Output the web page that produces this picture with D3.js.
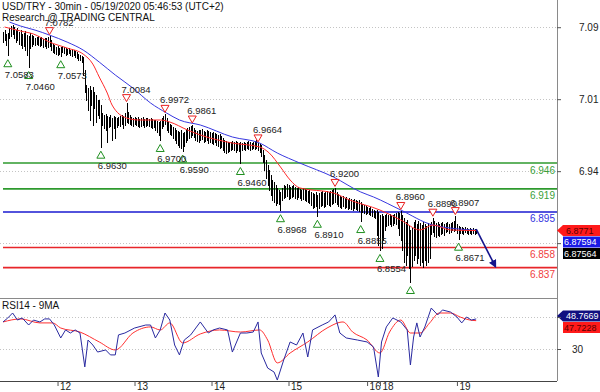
<!DOCTYPE html>
<html lang="en">
<head>
<meta charset="utf-8">
<title>USD/TRY 30min</title>
<style>
  body { margin: 0; background: #fff; }
  svg { display: block; font-family: "Liberation Sans", Arial, sans-serif; }
  .grid { stroke: #c4c4c4; stroke-dasharray: 1,2; }
  .frame { stroke: #8a8a8a; stroke-width: 1; }
  .bar { stroke: #000; stroke-width: 1; }
  .mark-label { font-size: 9.5px; fill: #222; }
  .axis text { font-size: 10px; fill: #222; font-family: "Liberation Sans", Arial, sans-serif; }
  .axis line { stroke: #555; }
</style>
</head>
<body>
<div id="chart"></div>

<script src="https://cdn.jsdelivr.net/npm/d3@7"></script>
<script>
var width = 600, height = 392;
var plotRight = 557, mainBottom = 298, rsiTop = 298, rsiBottom = 381;

// ---- data ----
// day labels on the time axis and the 30min bar where each day starts
var dayLabels = ["12", "13", "14", "15", "16", "18", "19"];
var dayBars = [34, 82, 130, 178, 227, 235, 283];

// price axis ticks
var priceTicks = [6.8625, 6.9375, 7.0125, 7.0875];
var rsiTicks = [30, 50];

// 30min bars: highs and lows
var highs = [
  7.0825,7.0845,7.0804,7.0814,7.0866,7.0887,7.0898,7.0877,7.0845,7.0866,
  7.0825,7.0845,7.0804,7.0814,7.0835,7.0793,7.0783,7.0814,7.0793,7.0783,
  7.0762,7.0773,7.0783,7.0762,7.0773,7.0752,7.0762,7.0762,7.0773,7.0782,
  7.0741,7.0700,7.0689,7.0668,7.0679,7.0658,7.0668,7.0679,7.0668,7.0658,
  7.0648,7.0658,7.0637,7.0648,7.0637,7.0627,7.0616,7.0595,7.0585,7.0575,
  7.0564,7.0429,7.0273,7.0241,7.0262,7.0220,7.0252,7.0200,7.0168,7.0116,
  7.0116,7.0064,6.9981,6.9960,6.9970,6.9950,6.9939,6.9960,6.9929,6.9950,
  6.9939,6.9929,6.9939,6.9950,6.9960,6.9950,6.9981,7.0084,6.9991,6.9960,
  6.9939,6.9929,6.9939,6.9929,6.9939,6.9918,6.9929,6.9939,6.9918,6.9929,
  6.9929,6.9918,6.9929,6.9918,6.9908,6.9908,6.9898,6.9887,6.9898,6.9929,
  6.9950,6.9972,6.9929,6.9887,6.9866,6.9856,6.9835,6.9825,6.9804,6.9793,
  6.9783,6.9804,6.9773,6.9783,6.9804,6.9825,6.9835,6.9845,6.9861,6.9825,
  6.9804,6.9793,6.9804,6.9804,6.9814,6.9793,6.9783,6.9804,6.9793,6.9783,
  6.9773,6.9783,6.9773,6.9762,6.9752,6.9762,6.9741,6.9720,6.9700,6.9689,
  6.9679,6.9668,6.9679,6.9689,6.9679,6.9689,6.9679,6.9668,6.9679,6.9668,
  6.9679,6.9668,6.9679,6.9689,6.9679,6.9668,6.9679,6.9689,6.9700,6.9664,
  6.9658,6.9648,6.9595,6.9543,6.9491,6.9439,6.9387,6.9335,6.9283,6.9262,
  6.9231,6.9200,6.9179,6.9158,6.9200,6.9231,6.9220,6.9241,6.9231,6.9210,
  6.9220,6.9231,6.9210,6.9200,6.9210,6.9189,6.9179,6.9200,6.9189,6.9179,
  6.9168,6.9179,6.9158,6.9148,6.9137,6.9158,6.9127,6.9148,6.9158,6.9168,
  6.9148,6.9158,6.9168,6.9158,6.9168,6.9179,6.9189,6.9200,6.9158,6.9137,
  6.9116,6.9106,6.9116,6.9095,6.9106,6.9085,6.9095,6.9085,6.9075,6.9085,
  6.9075,6.9064,6.9075,6.9054,6.9033,6.9023,6.9012,6.9002,6.8991,6.9002,
  6.8981,6.8970,6.8960,6.8970,6.8950,6.8918,6.8929,6.8908,6.8918,6.8929,
  6.8918,6.8929,6.8908,6.8918,6.8929,6.8939,6.8950,6.8939,6.8960,6.8918,
  6.8887,6.8845,6.8866,6.8814,6.8762,6.8783,6.8845,6.8866,6.8825,6.8856,
  6.8835,6.8814,6.8845,6.8825,6.8804,6.8835,6.8825,6.8845,6.8890,6.8856,
  6.8835,6.8845,6.8825,6.8835,6.8845,6.8825,6.8835,6.8845,6.8825,6.8835,
  6.8845,6.8856,6.8907,6.8825,6.8804,6.8793,6.8793,6.8783,6.8793,6.8783,
  6.8773,6.8783,6.8773,6.8783,6.8773,6.8773
];
var lows = [
  7.0720,7.0741,7.0689,7.0585,7.0762,7.0783,7.0804,7.0762,7.0720,7.0741,
  7.0700,7.0689,7.0658,7.0679,7.0637,7.0585,7.0460,7.0658,7.0679,7.0700,
  7.0689,7.0700,7.0689,7.0679,7.0689,7.0668,7.0679,7.0658,7.0668,7.0679,
  7.0637,7.0616,7.0606,7.0595,7.0585,7.0595,7.0573,7.0616,7.0606,7.0585,
  7.0595,7.0606,7.0585,7.0575,7.0585,7.0564,7.0554,7.0533,7.0533,7.0512,
  7.0377,7.0200,7.0116,7.0012,6.9908,7.0064,6.9856,7.0033,6.9887,6.9960,
  6.9929,6.9630,6.9856,6.9825,6.9804,6.9679,6.9835,6.9845,6.9700,6.9825,
  6.9720,6.9835,6.9856,6.9845,6.9866,6.9825,6.9856,6.9887,6.9877,6.9866,
  6.9856,6.9845,6.9866,6.9856,6.9845,6.9835,6.9845,6.9856,6.9835,6.9845,
  6.9856,6.9845,6.9835,6.9825,6.9835,6.9804,6.9783,6.9752,6.9700,6.9825,
  6.9845,6.9866,6.9804,6.9783,6.9762,6.9752,6.9720,6.9700,6.9668,6.9648,
  6.9627,6.9616,6.9590,6.9637,6.9679,6.9700,6.9720,6.9731,6.9752,6.9731,
  6.9700,6.9689,6.9679,6.9700,6.9710,6.9679,6.9689,6.9700,6.9668,6.9679,
  6.9668,6.9658,6.9679,6.9648,6.9637,6.9616,6.9627,6.9595,6.9575,6.9564,
  6.9575,6.9585,6.9595,6.9606,6.9595,6.9575,6.9595,6.9585,6.9460,6.9595,
  6.9606,6.9595,6.9616,6.9606,6.9595,6.9606,6.9616,6.9606,6.9616,6.9595,
  6.9575,6.9533,6.9470,6.9387,6.9304,6.9231,6.9179,6.9127,6.9075,6.9054,
  6.9023,6.9043,6.9033,6.8968,6.9075,6.9095,6.9106,6.9116,6.9085,6.9095,
  6.9106,6.9116,6.9095,6.9085,6.9106,6.9095,6.9075,6.9085,6.9075,6.9064,
  6.9054,6.9043,6.9023,6.8991,6.9002,6.9012,6.8910,6.8991,6.9012,6.9023,
  6.9002,6.9012,6.9033,6.9023,6.9012,6.9033,6.9043,6.9054,6.9033,6.9012,
  6.9002,6.8991,6.9012,6.8991,6.9002,6.8981,6.8991,6.8981,6.8970,6.8991,
  6.8981,6.8970,6.8960,6.8855,6.8950,6.8939,6.8929,6.8939,6.8929,6.8918,
  6.8908,6.8898,6.8887,6.8710,6.8606,6.8554,6.8575,6.8658,6.8762,6.8804,
  6.8814,6.8825,6.8804,6.8814,6.8835,6.8825,6.8783,6.8710,6.8658,6.8554,
  6.8429,6.8398,6.8502,6.8366,6.8220,6.8387,6.8450,6.8502,6.8418,6.8470,
  6.8398,6.8429,6.8377,6.8450,6.8398,6.8429,6.8470,6.8720,6.8741,6.8700,
  6.8689,6.8710,6.8700,6.8720,6.8731,6.8710,6.8741,6.8752,6.8731,6.8741,
  6.8762,6.8752,6.8762,6.8731,6.8671,6.8731,6.8731,6.8720,6.8741,6.8731,
  6.8720,6.8731,6.8720,6.8731,6.8720,6.8731
];

// moving averages (bar index, value)
var maFastBars = [1, 11, 19, 29, 40, 50, 56, 60, 65, 68, 77, 85, 98, 104, 115, 123, 143, 160, 166, 173, 179, 185, 206, 216, 235, 248, 260, 268, 279, 295];
var maFastVals = [7.0877, 7.0835, 7.0804, 7.0720, 7.0658, 7.0595, 7.0491, 7.0356, 7.0189, 7.0064, 6.9929, 6.9908, 6.9908, 6.9887, 6.9804, 6.9752, 6.9668, 6.9627, 6.9564, 6.9418, 6.9283, 6.9200, 6.9148, 6.9075, 6.8970, 6.8866, 6.8762, 6.8814, 6.8762, 6.8756];
var maSlowBars = [4, 11, 20, 29, 40, 50, 60, 70, 81, 92, 102, 110, 123, 143, 160, 171, 185, 206, 223, 231, 248, 268, 295];
var maSlowVals = [7.0929, 7.0887, 7.0845, 7.0793, 7.0720, 7.0637, 7.0512, 7.0377, 7.0241, 7.0085, 6.9981, 6.9908, 6.9856, 6.9731, 6.9668, 6.9564, 6.9460, 6.9314, 6.9158, 6.9106, 6.8970, 6.8814, 6.8759];

// support / resistance levels
var levelVals = [6.946, 6.919, 6.895, 6.858, 6.837];
var pivot = 6.895;

// swing highs and lows
var highMarkBars = [29, 77, 101, 118, 159, 207, 248, 268, 282];
var highMarkVals = [7.0782, 7.0084, 6.9972, 6.9861, 6.9664, 6.9200, 6.8960, 6.8890, 6.8907];
var lowMarkBars = [3, 16, 36, 61, 98, 112, 148, 173, 196, 223, 235, 254, 284];
var lowMarkVals = [7.0583, 7.0460, 7.0573, 6.9630, 6.9700, 6.9590, 6.9460, 6.8968, 6.8910, 6.8855, 6.8554, 6.8220, 6.8671];

// projection arrow
var arrowBars = [295, 307];
var arrowVals = [6.8771, 6.8380];

// last values shown on the right
var priceBoxVals = [6.8771, 6.87594, 6.87564];
var rsiBoxVals = [48.7669, 47.7228];

// RSI14 and its 9MA
var rsiBars = [0,3,6,9,12,16,19,23,26,29,32,36,39,42,45,48,51,53,56,59,64,67,70,72,76,82,89,92,95,98,101,104,107,110,113,117,123,128,131,135,140,143,148,152,156,159,161,165,169,171,175,179,183,187,190,193,199,203,207,210,214,221,227,231,234,236,239,243,248,252,254,256,258,260,263,267,271,274,279,283,286,289,292,295];
var rsiVals = [46.9,49.4,52.5,48.1,49.4,45.0,48.1,46.9,48.8,48.8,45.0,36.9,41.9,40.0,41.9,40.0,18.8,35.6,32.5,28.1,29.4,26.3,26.3,38.8,40.0,43.1,45.0,45.0,36.9,41.9,52.5,48.1,32.5,26.3,35.6,38.8,46.9,40.0,41.9,43.1,41.9,28.1,40.0,40.0,40.6,46.9,27.5,18.1,15.6,10.6,23.1,34.4,32.5,40.0,25.0,41.9,45.0,46.9,51.3,40.0,36.9,35.6,34.4,31.3,12.5,34.4,43.8,49.4,46.9,41.9,20.0,37.5,46.3,37.5,43.8,55.6,51.3,54.4,53.1,50.0,46.3,50.0,48.1,48.77];
var rsiMaBars = [0,11,23,31,36,48,60,70,81,92,98,104,112,123,135,148,160,165,171,179,190,202,212,218,227,235,241,248,254,260,266,272,279,285,291,295];
var rsiMaVals = [46.9,48.8,46.3,46.3,43.1,40.6,34.4,29.4,40.0,43.8,41.9,46.3,33.8,39.4,41.9,40.6,41.9,35.6,21.3,27.5,34.4,43.1,46.9,40.6,35.6,27.5,40.6,48.1,40.0,40.0,46.3,52.5,52.5,50.0,48.1,47.72];

// ---- chart ----
var svg = d3.select("#chart")
  .append("svg")
  .attr("width", width)
  .attr("height", height);

var x = d3.scaleLinear().domain([0, 345]).range([3, 3 + 345 * 1.604]);
var y = d3.scaleLinear().domain([6.837, 6.946]).range([267.6, 163]);
var yr = d3.scaleLinear().domain([10, 61.875]).range([rsiBottom, rsiTop]);

var defs = svg.append("defs");
defs.append("clipPath").attr("id", "clipMain")
  .append("rect").attr("x", 0).attr("y", 0).attr("width", plotRight).attr("height", mainBottom);
defs.append("clipPath").attr("id", "clipRsi")
  .append("rect").attr("x", 0).attr("y", rsiTop).attr("width", plotRight).attr("height", rsiBottom - rsiTop);
defs.append("marker").attr("id", "arrowHead")
  .attr("viewBox", "0 0 10 10").attr("refX", 8).attr("refY", 5)
  .attr("markerWidth", 5).attr("markerHeight", 5).attr("orient", "auto")
  .append("path").attr("d", "M0,0 L10,5 L0,10 Z").attr("fill", "#14148c");

// grid
svg.append("g").selectAll("line").data(priceTicks).enter().append("line")
  .attr("class", "grid")
  .attr("x1", 0).attr("x2", plotRight)
  .attr("y1", function (d) { return Math.round(y(d)) + 0.5; })
  .attr("y2", function (d) { return Math.round(y(d)) + 0.5; });
svg.append("g").selectAll("line").data(rsiTicks).enter().append("line")
  .attr("class", "grid")
  .attr("x1", 0).attr("x2", plotRight)
  .attr("y1", function (d) { return Math.round(yr(d)) + 0.5; })
  .attr("y2", function (d) { return Math.round(yr(d)) + 0.5; });

var main = svg.append("g").attr("clip-path", "url(#clipMain)");

// levels
function levelColor(v) { return v > pivot ? "#2e9a2e" : (v < pivot ? "#e8262a" : "#1a1ad0"); }
function labelColor(v) { return v > pivot ? "#3aa03a" : (v < pivot ? "#f04040" : "#3030e0"); }

main.selectAll(".level").data(levelVals).enter().append("line")
  .attr("class", "level")
  .attr("x1", 3).attr("x2", plotRight)
  .attr("y1", function (d) { return y(d); })
  .attr("y2", function (d) { return y(d); })
  .attr("stroke", levelColor)
  .attr("stroke-width", 1.6);

main.selectAll(".level-label").data(levelVals).enter().append("text")
  .attr("class", "level-label")
  .attr("x", 555).attr("y", function (d) { return y(d) + 10.5; })
  .attr("text-anchor", "end")
  .attr("font-size", "10px")
  .attr("fill", labelColor)
  .text(function (d) { return d3.format(".3f")(d); });

// price bars
main.append("g").selectAll("line").data(d3.range(highs.length)).enter().append("line")
  .attr("class", "bar")
  .attr("shape-rendering", "crispEdges")
  .attr("x1", function (i) { return Math.round(x(i)) + 0.5; })
  .attr("x2", function (i) { return Math.round(x(i)) + 0.5; })
  .attr("y1", function (i) { return y(highs[i]); })
  .attr("y2", function (i) { return y(lows[i]) + 1; });

// moving averages
var maLine = d3.line().curve(d3.curveMonotoneX)
  .x(function (d) { return x(d[0]); })
  .y(function (d) { return y(d[1]); });

main.append("path")
  .datum(d3.zip(maSlowBars, maSlowVals))
  .attr("fill", "none").attr("stroke", "#3838e0").attr("stroke-width", 1)
  .attr("d", maLine);
main.append("path")
  .datum(d3.zip(maFastBars, maFastVals))
  .attr("fill", "none").attr("stroke", "#ff2a2a").attr("stroke-width", 1)
  .attr("d", maLine);

// swing markers
function upTri(cx, cy) {
  return "M" + (cx - 4) + "," + (cy + 3.5) + "L" + (cx + 4) + "," + (cy + 3.5) + "L" + cx + "," + (cy - 3.5) + "Z";
}
function downTri(cx, cy) {
  return "M" + (cx - 4) + "," + (cy - 3.5) + "L" + (cx + 4) + "," + (cy - 3.5) + "L" + cx + "," + (cy + 3.5) + "Z";
}

var highMarks = d3.zip(highMarkBars, highMarkVals);
var lowMarks = d3.zip(lowMarkBars, lowMarkVals);

main.selectAll(".hi-tri").data(highMarks).enter().append("path")
  .attr("d", function (d) { return downTri(x(d[0]), y(d[1]) - 5); })
  .attr("fill", "#fff").attr("stroke", "#e82020").attr("stroke-width", 1);
main.selectAll(".hi-lab").data(highMarks).enter().append("text")
  .attr("class", "mark-label")
  .attr("x", function (d) { return x(d[0]) - 5; })
  .attr("y", function (d) { return y(d[1]) - 10.5; })
  .text(function (d) { return d3.format(".4f")(d[1]); });

main.selectAll(".lo-tri").data(lowMarks).enter().append("path")
  .attr("d", function (d) { return upTri(x(d[0]), y(d[1]) + 8); })
  .attr("fill", "#fff").attr("stroke", "#1f8f1f").attr("stroke-width", 1);
main.selectAll(".lo-lab").data(lowMarks).enter().append("text")
  .attr("class", "mark-label")
  .attr("x", function (d) { return x(d[0]) - 3; })
  .attr("y", function (d) { return y(d[1]) + 22.5; })
  .text(function (d) { return d3.format(".4f")(d[1]); });

// projection arrow
main.append("line")
  .attr("x1", x(arrowBars[0])).attr("y1", y(arrowVals[0]))
  .attr("x2", x(arrowBars[1])).attr("y2", y(arrowVals[1]))
  .attr("stroke", "#14148c").attr("stroke-width", 1.6)
  .attr("marker-end", "url(#arrowHead)");

// RSI panel
var rsiG = svg.append("g").attr("clip-path", "url(#clipRsi)");
rsiG.append("path")
  .datum(d3.zip(rsiMaBars, rsiMaVals))
  .attr("fill", "none").attr("stroke", "#ff3030").attr("stroke-width", 1)
  .attr("d", d3.line().curve(d3.curveMonotoneX)
    .x(function (d) { return x(d[0]); })
    .y(function (d) { return yr(d[1]); }));
rsiG.append("path")
  .datum(d3.zip(rsiBars, rsiVals))
  .attr("fill", "none").attr("stroke", "#2a2aa0").attr("stroke-width", 1)
  .attr("d", d3.line()
    .x(function (d) { return x(d[0]); })
    .y(function (d) { return yr(d[1]); }));

// frame
svg.append("line").attr("class", "frame")
  .attr("x1", plotRight + 0.5).attr("x2", plotRight + 0.5).attr("y1", 0).attr("y2", rsiBottom);
svg.append("line").attr("class", "frame")
  .attr("x1", 0).attr("x2", plotRight).attr("y1", mainBottom + 0.5).attr("y2", mainBottom + 0.5);
svg.append("line").attr("stroke", "#444")
  .attr("x1", 0).attr("x2", plotRight).attr("y1", rsiBottom + 0.5).attr("y2", rsiBottom + 0.5);

// value boxes on the right, stacked so they do not overlap
function drawBoxes(vals, scale, shift, fills, textFills) {
  var prevBottom = -1000, spans = [];
  vals.forEach(function (v, k) {
    var c = Math.max(scale(v) + shift, prevBottom + 6);
    prevBottom = c + 5.5;
    spans.push([c - 5.5, c + 5.5]);
    var pts = k === 0
      ? [[plotRight, c], [plotRight + 6, c - 5.5], [width, c - 5.5], [width, c + 5.5], [plotRight + 6, c + 5.5]]
      : [[plotRight + 6, c - 5.5], [width, c - 5.5], [width, c + 5.5], [plotRight + 6, c + 5.5]];
    svg.append("polygon")
      .attr("points", pts.map(function (p) { return p.join(","); }).join(" "))
      .attr("fill", fills[k]);
    svg.append("text")
      .attr("x", k === 0 ? plotRight + 9 : plotRight + 7).attr("y", c + 3.3)
      .attr("font-size", "9px").attr("fill", textFills[k])
      .text(String(v));
  });
  return [spans[0][0], spans[spans.length - 1][1]];
}
var priceSpan = drawBoxes(priceBoxVals, y, 1.5, ["#ff1a1a", "#1a1ae6", "#000"], ["#5a0000", "#fff", "#fff"]);
var rsiSpan = drawBoxes(rsiBoxVals, yr, -3, ["#101080", "#ff1a1a"], ["#fff", "#5a0000"]);

// axes: labels hidden under the value boxes are left out
function hiddenBy(span, pos) { return pos > span[0] - 4 && pos < span[1] + 4; }

var yAxis = d3.axisRight(y).tickValues(priceTicks)
  .tickFormat(function (d) { return hiddenBy(priceSpan, y(d)) ? "" : d3.format(".2f")(d); })
  .tickSize(4).tickPadding(18);
svg.append("g").attr("class", "axis")
  .attr("transform", "translate(" + plotRight + ",0)")
  .call(yAxis)
  .call(function (g) { g.select(".domain").remove(); });

var rAxis = d3.axisRight(yr).tickValues(rsiTicks)
  .tickFormat(function (d) { return hiddenBy(rsiSpan, yr(d)) ? "" : d3.format("d")(d); })
  .tickSize(4).tickPadding(11);
svg.append("g").attr("class", "axis")
  .attr("transform", "translate(" + plotRight + ",0)")
  .call(rAxis)
  .call(function (g) { g.select(".domain").remove(); });

var xAxis = d3.axisBottom(x).tickValues(dayBars)
  .tickFormat(function (d, i) { return dayLabels[i]; })
  .tickSize(5);
svg.append("g").attr("class", "axis")
  .attr("transform", "translate(0," + rsiBottom + ")")
  .call(xAxis)
  .call(function (g) {
    g.select(".domain").remove();
    g.selectAll("text").attr("text-anchor", "start").attr("x", 2).attr("y", 2).attr("dy", "0.71em");
  });

// titles
svg.append("text").attr("x", 2).attr("y", 10).attr("font-size", "10px").attr("fill", "#111")
  .text("USD/TRY - 30min - 05/19/2020 05:46:53 (UTC+2)");
svg.append("text").attr("x", 2).attr("y", 20.5).attr("font-size", "10px").attr("fill", "#111")
  .text("Research @ TRADING CENTRAL");
svg.append("text").attr("x", 2).attr("y", 309).attr("font-size", "10px").attr("fill", "#111")
  .text("RSI14 - 9MA");
</script>
</body>
</html>
